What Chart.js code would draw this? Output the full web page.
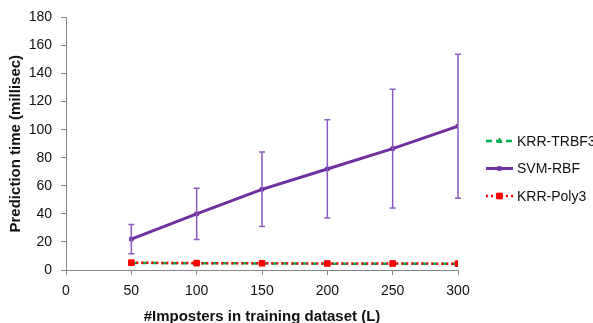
<!DOCTYPE html>
<html>
<head>
<meta charset="utf-8">
<script src="https://cdn.jsdelivr.net/npm/chart.js@4.4.1/dist/chart.umd.min.js"></script>
<style>
  html, body { margin: 0; padding: 0; background: #fff; }
  #wrap { width: 593px; height: 323px; }
</style>
</head>
<body>
<div id="wrap"><canvas id="c" width="593" height="323"></canvas></div>
<script>
// Number of imposters in the training set
const impostersL = [50, 100, 150, 200, 250, 300];

// Mean prediction time per test sample (milliseconds)
const krrTrbf3 = [5.0, 4.8, 4.7, 4.5, 4.5, 4.4];
const svmRbf = [22, 40, 57.5, 72, 86.5, 102.5];
const krrPoly3 = [5.2, 4.9, 4.8, 4.6, 4.6, 4.5];

// Standard deviation of the SVM-RBF prediction time (error bars)
const svmRbfStd = [10.5, 18.3, 26.5, 35, 42.3, 51.3];

// Axis ticks
const xTicks = [0, 50, 100, 150, 200, 250, 300];
const yTicks = [0, 20, 40, 60, 80, 100, 120, 140, 160, 180];

const toPoints = (ys) => ys.map((y, i) => ({ x: impostersL[i], y }));

const FONT = "'Liberation Sans', Arial, sans-serif";
const AXIS_GREY = '#868686';

// Vertical error bars with caps for datasets that carry an `errors` array
const errorBars = {
  id: 'errorBars',
  afterDatasetsDraw(chart) {
    const { ctx, scales: { x, y } } = chart;
    chart.data.datasets.forEach((ds) => {
      if (!ds.errors) return;
      ctx.save();
      ctx.strokeStyle = ds.errorColor;
      ctx.lineWidth = 1.5;
      ds.data.forEach((p, i) => {
        const px = x.getPixelForValue(p.x);
        const top = y.getPixelForValue(p.y + ds.errors[i]);
        const bot = y.getPixelForValue(p.y - ds.errors[i]);
        ctx.beginPath();
        ctx.moveTo(px, top); ctx.lineTo(px, bot);
        ctx.moveTo(px - 3, top); ctx.lineTo(px + 3, top);
        ctx.moveTo(px - 3, bot); ctx.lineTo(px + 3, bot);
        ctx.stroke();
      });
      ctx.restore();
    });
  }
};

// Legend to the right of the plot, one row per series
const sideLegend = {
  id: 'sideLegend',
  afterDraw(chart) {
    const { ctx, chartArea } = chart;
    const x0 = chartArea.right + 28;
    const x1 = x0 + 27;
    const yFirst = 141;
    const rowGap = 27.5;
    chart.data.datasets.forEach((ds, i) => {
      const yy = yFirst + i * rowGap;
      ctx.save();
      ctx.strokeStyle = ds.borderColor;
      ctx.lineWidth = ds.borderWidth;
      ctx.setLineDash(ds.borderDash || []);
      ctx.beginPath();
      ctx.moveTo(x0, yy); ctx.lineTo(x1, yy);
      ctx.stroke();
      ctx.setLineDash([]);
      ctx.fillStyle = ds.backgroundColor;
      ctx.lineWidth = ds.pointBorderWidth || 1;
      Chart.helpers.drawPoint(ctx, {
        pointStyle: ds.pointStyle,
        radius: ds.pointRadius,
        borderWidth: ds.pointBorderWidth || 1,
        rotation: 0
      }, (x0 + x1) / 2, yy);
      ctx.fillStyle = '#111';
      ctx.font = '14px ' + FONT;
      ctx.textBaseline = 'middle';
      ctx.textAlign = 'left';
      ctx.fillText(ds.label, x1 + 4, yy + 1);
      ctx.restore();
    });
  }
};

new Chart(document.getElementById('c'), {
  type: 'line',
  data: {
    datasets: [
      {
        label: 'KRR-TRBF3',
        data: toPoints(krrTrbf3),
        borderColor: '#00B050',
        backgroundColor: '#00B050',
        borderWidth: 2.5,
        borderDash: [6, 4],
        pointStyle: 'triangle',
        pointRadius: 3,
        pointBorderWidth: 1,
        order: 2
      },
      {
        label: 'SVM-RBF',
        data: toPoints(svmRbf),
        errors: svmRbfStd,
        errorColor: '#8A5BC0',
        borderColor: '#7030A0',
        backgroundColor: '#7030A0',
        borderWidth: 3,
        pointStyle: 'rect',
        pointRadius: 2.5,
        pointBorderWidth: 1,
        order: 1
      },
      {
        label: 'KRR-Poly3',
        data: toPoints(krrPoly3),
        borderColor: '#FF0000',
        backgroundColor: '#FF0000',
        borderWidth: 2.5,
        borderDash: [2, 3],
        pointStyle: 'rect',
        pointRadius: 4,
        pointBorderWidth: 1,
        order: 0
      }
    ]
  },
  options: {
    responsive: false,
    animation: false,
    devicePixelRatio: 1,
    layout: { padding: { left: 0, top: 16, right: 135, bottom: 0 } },
    plugins: { legend: { display: false }, tooltip: { enabled: false } },
    elements: { line: { tension: 0 } },
    scales: {
      x: {
        type: 'linear',
        min: 0, max: 300,
        afterBuildTicks: (s) => { s.ticks = xTicks.map(v => ({ value: v })); },
        afterFit: (s) => { s.height = 53; },
        border: { color: AXIS_GREY, width: 1 },
        grid: { display: true, drawOnChartArea: false, drawTicks: true, tickLength: 5, color: AXIS_GREY },
        ticks: { color: '#111', font: { family: FONT, size: 14 }, padding: 8, maxRotation: 0 },
        title: {
          display: true,
          text: '#Imposters in training dataset (L)',
          color: '#111',
          font: { family: FONT, size: 15, weight: 'bold' },
          padding: { top: 0, bottom: -3 }
        }
      },
      y: {
        type: 'linear',
        min: 0, max: 180,
        afterBuildTicks: (s) => { s.ticks = yTicks.map(v => ({ value: v })); },
        afterFit: (s) => { s.width = 66; },
        border: { color: AXIS_GREY, width: 1 },
        grid: { display: true, drawOnChartArea: false, drawTicks: true, tickLength: 5, color: AXIS_GREY },
        ticks: { color: '#111', font: { family: FONT, size: 14 }, padding: 9 },
        title: {
          display: true,
          text: 'Prediction time (millisec)',
          color: '#111',
          font: { family: FONT, size: 15, weight: 'bold' },
          padding: { top: 7, bottom: 0 }
        }
      }
    }
  },
  plugins: [errorBars, sideLegend]
});
</script>
</body>
</html>
